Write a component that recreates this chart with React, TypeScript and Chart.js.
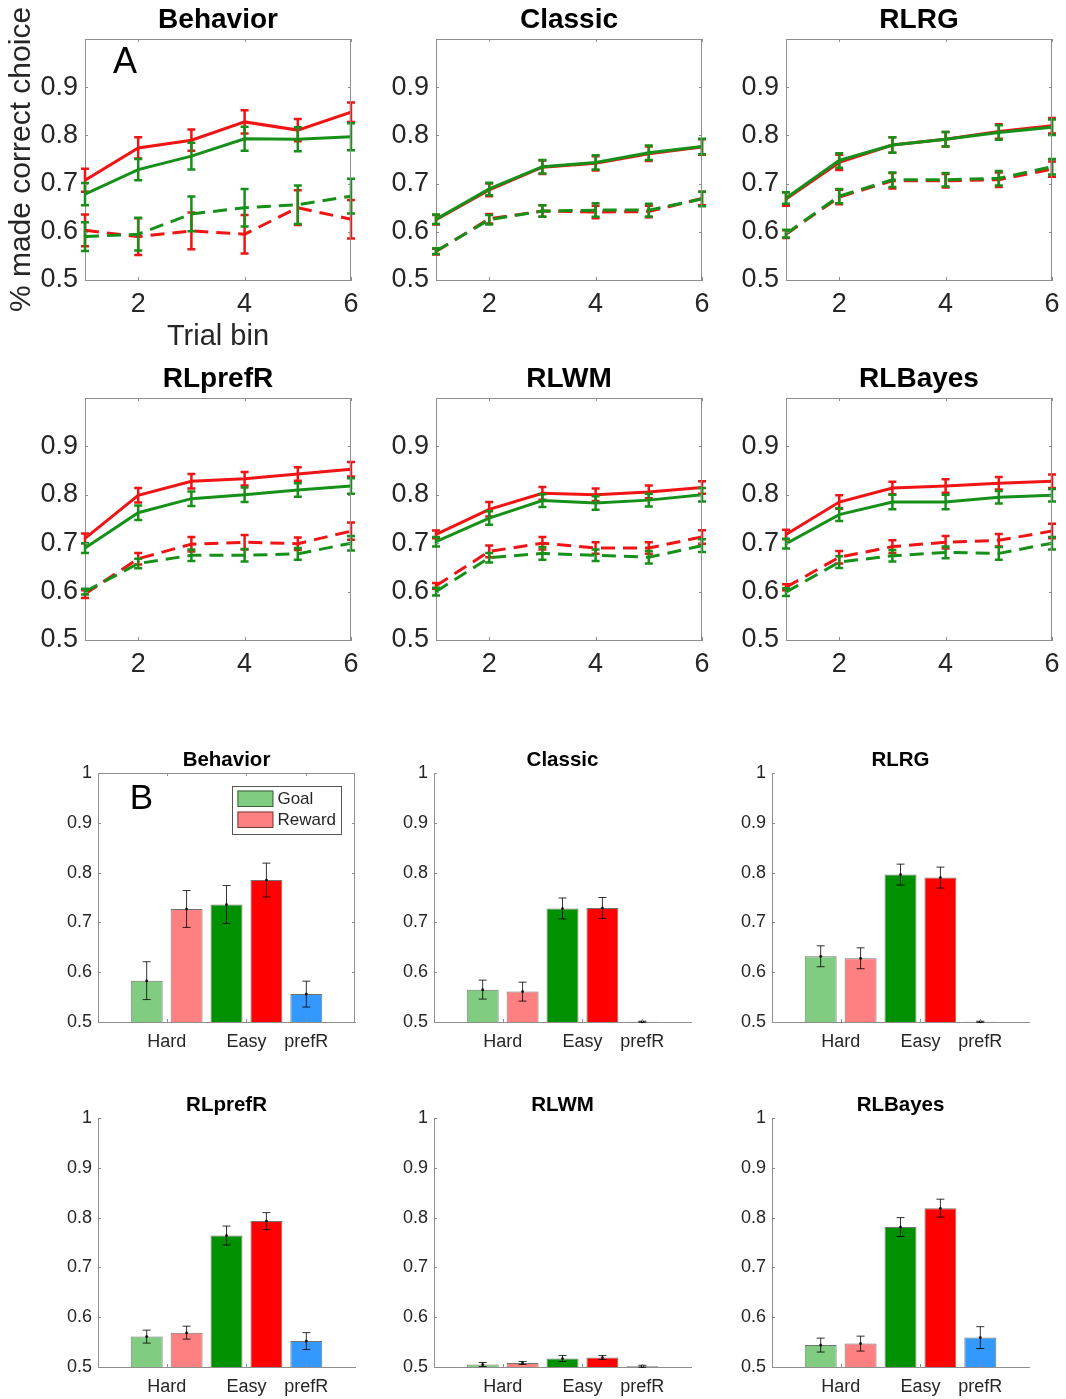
import React, { useEffect, useRef } from 'react';
import { Chart, registerables } from 'chart.js';

Chart.register(...registerables);

const FONT = '"Liberation Sans", Arial, Helvetica, sans-serif';
const AXIS_GRAY = '#8e8e8e';
const TEXT = '#262626';
const RED = '#f01414';
const GREEN = '#17901a';

// ---------------- Panel A (learning curves) ----------------
const trialBins = [1, 2, 3, 4, 5, 6];
const lineXTicks = [2, 4, 6];
const lineXTickLabels = ['2', '4', '6'];
const lineYTicks = [0.5, 0.6, 0.7, 0.8, 0.9];
const lineYTickLabels = ['0.5', '0.6', '0.7', '0.8', '0.9'];
const lineTitles = ['Behavior', 'Classic', 'RLRG', 'RLprefR', 'RLWM', 'RLBayes'];

const behaviorRedSolid = [0.707, 0.774, 0.790, 0.828, 0.811, 0.848];
const behaviorRedSolidErr = [0.024, 0.022, 0.022, 0.024, 0.023, 0.020];
const behaviorGreenSolid = [0.678, 0.729, 0.757, 0.793, 0.792, 0.797];
const behaviorGreenSolidErr = [0.023, 0.022, 0.028, 0.025, 0.025, 0.028];
const behaviorRedDash = [0.603, 0.590, 0.602, 0.595, 0.650, 0.626];
const behaviorRedDashErr = [0.033, 0.038, 0.038, 0.040, 0.036, 0.040];
const behaviorGreenDash = [0.590, 0.595, 0.637, 0.650, 0.656, 0.674];
const behaviorGreenDashErr = [0.030, 0.034, 0.036, 0.039, 0.040, 0.036];

const classicRedSolid = [0.625, 0.687, 0.734, 0.742, 0.762, 0.776];
const classicRedSolidErr = [0.010, 0.013, 0.014, 0.015, 0.015, 0.016];
const classicGreenSolid = [0.626, 0.689, 0.735, 0.744, 0.764, 0.777];
const classicGreenSolidErr = [0.010, 0.013, 0.014, 0.015, 0.015, 0.016];
const classicRedDash = [0.559, 0.627, 0.643, 0.641, 0.642, 0.669];
const classicRedDashErr = [0.006, 0.010, 0.012, 0.013, 0.012, 0.014];
const classicGreenDash = [0.560, 0.625, 0.643, 0.645, 0.645, 0.668];
const classicGreenDashErr = [0.006, 0.010, 0.012, 0.014, 0.013, 0.015];

const rlrgRedSolid = [0.668, 0.744, 0.780, 0.792, 0.808, 0.820];
const rlrgRedSolidErr = [0.014, 0.016, 0.016, 0.015, 0.015, 0.016];
const rlrgGreenSolid = [0.670, 0.748, 0.780, 0.792, 0.806, 0.817];
const rlrgGreenSolidErr = [0.012, 0.015, 0.016, 0.015, 0.015, 0.016];
const rlrgRedDash = [0.595, 0.672, 0.706, 0.706, 0.708, 0.730];
const rlrgRedDashErr = [0.008, 0.015, 0.016, 0.014, 0.015, 0.016];
const rlrgGreenDash = [0.596, 0.674, 0.708, 0.708, 0.711, 0.735];
const rlrgGreenDashErr = [0.008, 0.015, 0.015, 0.014, 0.015, 0.016];

const rlprefrRedSolid = [0.710, 0.799, 0.828, 0.833, 0.843, 0.853];
const rlprefrRedSolidErr = [0.010, 0.015, 0.015, 0.014, 0.014, 0.015];
const rlprefrGreenSolid = [0.690, 0.763, 0.792, 0.800, 0.810, 0.818];
const rlprefrGreenSolidErr = [0.010, 0.015, 0.015, 0.015, 0.014, 0.016];
const rlprefrRedDash = [0.595, 0.668, 0.698, 0.702, 0.699, 0.725];
const rlprefrRedDashErr = [0.008, 0.012, 0.015, 0.015, 0.013, 0.018];
const rlprefrGreenDash = [0.600, 0.658, 0.675, 0.675, 0.678, 0.700];
const rlprefrGreenDashErr = [0.006, 0.010, 0.012, 0.013, 0.012, 0.015];

const rlwmRedSolid = [0.718, 0.770, 0.803, 0.800, 0.806, 0.815];
const rlwmRedSolidErr = [0.008, 0.015, 0.013, 0.013, 0.013, 0.013];
const rlwmGreenSolid = [0.703, 0.752, 0.788, 0.783, 0.789, 0.800];
const rlwmGreenSolidErr = [0.010, 0.014, 0.013, 0.014, 0.013, 0.014];
const rlwmRedDash = [0.612, 0.683, 0.700, 0.690, 0.690, 0.713];
const rlwmRedDashErr = [0.006, 0.012, 0.013, 0.012, 0.012, 0.014];
const rlwmGreenDash = [0.600, 0.670, 0.679, 0.675, 0.671, 0.695];
const rlwmGreenDashErr = [0.008, 0.010, 0.013, 0.012, 0.013, 0.013];

const rlbayesRedSolid = [0.718, 0.785, 0.814, 0.818, 0.824, 0.828];
const rlbayesRedSolidErr = [0.010, 0.014, 0.013, 0.014, 0.013, 0.014];
const rlbayesGreenSolid = [0.699, 0.759, 0.785, 0.785, 0.795, 0.799];
const rlbayesGreenSolidErr = [0.010, 0.013, 0.015, 0.015, 0.013, 0.013];
const rlbayesRedDash = [0.609, 0.671, 0.693, 0.702, 0.706, 0.725];
const rlbayesRedDashErr = [0.006, 0.013, 0.013, 0.013, 0.013, 0.015];
const rlbayesGreenDash = [0.599, 0.661, 0.674, 0.681, 0.679, 0.700];
const rlbayesGreenDashErr = [0.008, 0.012, 0.012, 0.012, 0.013, 0.013];

// ---------------- Panel B (bar summaries) ----------------
const barCategories = ['Goal Hard', 'Reward Hard', 'Goal Easy', 'Reward Easy', 'prefR'];
const barPositions = [1, 2, 3, 4, 5];
const barXTicks = [1.5, 3.5, 5];
const barXTickLabels = ['Hard', 'Easy', 'prefR'];
const barYTicks = [0.5, 0.6, 0.7, 0.8, 0.9, 1];
const barYTickLabels = ['0.5', '0.6', '0.7', '0.8', '0.9', '1'];
const barColors = ['#80cc80', '#ff8080', '#009100', '#ff0000', '#3399ff'];
const barLegendLabels = ['Goal', 'Reward'];
const barTitles = ['Behavior', 'Classic', 'RLRG', 'RLprefR', 'RLWM', 'RLBayes'];

const behaviorBars = [0.583, 0.727, 0.736, 0.785, 0.556];
const behaviorBarsErr = [0.038, 0.037, 0.038, 0.034, 0.026];
const classicBars = [0.565, 0.561, 0.728, 0.729, 0.5005];
const classicBarsErr = [0.019, 0.019, 0.021, 0.021, 0.001];
const rlrgBars = [0.632, 0.628, 0.796, 0.790, 0.5005];
const rlrgBarsErr = [0.021, 0.021, 0.021, 0.021, 0.001];
const rlprefrBars = [0.561, 0.569, 0.764, 0.793, 0.552];
const rlprefrBarsErr = [0.013, 0.013, 0.019, 0.017, 0.017];
const rlwmBars = [0.505, 0.508, 0.517, 0.519, 0.5015];
const rlwmBarsErr = [0.004, 0.003, 0.006, 0.004, 0.002];
const rlbayesBars = [0.544, 0.547, 0.781, 0.819, 0.559];
const rlbayesBarsErr = [0.014, 0.015, 0.019, 0.018, 0.022];

const lineSeries = [
  [behaviorRedSolid, behaviorRedSolidErr, behaviorGreenSolid, behaviorGreenSolidErr, behaviorRedDash, behaviorRedDashErr, behaviorGreenDash, behaviorGreenDashErr],
  [classicRedSolid, classicRedSolidErr, classicGreenSolid, classicGreenSolidErr, classicRedDash, classicRedDashErr, classicGreenDash, classicGreenDashErr],
  [rlrgRedSolid, rlrgRedSolidErr, rlrgGreenSolid, rlrgGreenSolidErr, rlrgRedDash, rlrgRedDashErr, rlrgGreenDash, rlrgGreenDashErr],
  [rlprefrRedSolid, rlprefrRedSolidErr, rlprefrGreenSolid, rlprefrGreenSolidErr, rlprefrRedDash, rlprefrRedDashErr, rlprefrGreenDash, rlprefrGreenDashErr],
  [rlwmRedSolid, rlwmRedSolidErr, rlwmGreenSolid, rlwmGreenSolidErr, rlwmRedDash, rlwmRedDashErr, rlwmGreenDash, rlwmGreenDashErr],
  [rlbayesRedSolid, rlbayesRedSolidErr, rlbayesGreenSolid, rlbayesGreenSolidErr, rlbayesRedDash, rlbayesRedDashErr, rlbayesGreenDash, rlbayesGreenDashErr],
];
const barSeries = [
  [behaviorBars, behaviorBarsErr],
  [classicBars, classicBarsErr],
  [rlrgBars, rlrgBarsErr],
  [rlprefrBars, rlprefrBarsErr],
  [rlwmBars, rlwmBarsErr],
  [rlbayesBars, rlbayesBarsErr],
];

// ---------------- plugins ----------------
const matlabAxes: any = {
  id: 'matlabAxes',
  afterDraw(chart: any, _a: any, opts: any) {
    if (!opts || !opts.enabled) return;
    const { ctx, chartArea: a, scales } = chart;
    const xs = scales.x;
    const ys = scales.y;
    const tl = opts.tickLength;
    ctx.save();
    ctx.strokeStyle = opts.color;
    ctx.lineWidth = 1;
    ctx.beginPath();
    ys.ticks.forEach((t: any) => {
      const y = Math.round(ys.getPixelForValue(t.value)) + 0.5;
      ctx.moveTo(a.left, y);
      ctx.lineTo(a.left + tl, y);
      if (opts.box) {
        ctx.moveTo(a.right, y);
        ctx.lineTo(a.right - tl, y);
      }
    });
    xs.ticks.forEach((t: any) => {
      const x = Math.round(xs.getPixelForValue(t.value)) + 0.5;
      ctx.moveTo(x, a.bottom);
      ctx.lineTo(x, a.bottom - tl);
      if (opts.box) {
        ctx.moveTo(x, a.top);
        ctx.lineTo(x, a.top + tl);
      }
    });
    if (opts.box) {
      ctx.moveTo(a.left, a.top + 0.5);
      ctx.lineTo(a.right, a.top + 0.5);
      ctx.moveTo(a.right - 0.5, a.top);
      ctx.lineTo(a.right - 0.5, a.bottom);
    }
    ctx.stroke();
    ctx.restore();
  },
};

const errorBars: any = {
  id: 'errorBars',
  afterDatasetDraw(chart: any, args: any) {
    const ds = chart.data.datasets[args.index];
    const errs = ds.errors;
    if (!errs) return;
    const ys = chart.scales.y;
    const ctx = chart.ctx;
    ctx.save();
    ctx.strokeStyle = ds.errorColor || ds.borderColor;
    ctx.lineWidth = ds.errorWidth || 1;
    const cap = ds.errorCap || 4;
    args.meta.data.forEach((el: any, i: number) => {
      const v = ds.data[i].y;
      const e = errs[i];
      const x = el.x;
      const yt = ys.getPixelForValue(v + e);
      const yb = ys.getPixelForValue(v - e);
      ctx.beginPath();
      ctx.moveTo(x, yt);
      ctx.lineTo(x, yb);
      ctx.moveTo(x - cap, yt);
      ctx.lineTo(x + cap, yt);
      ctx.moveTo(x - cap, yb);
      ctx.lineTo(x + cap, yb);
      ctx.stroke();
      if (ds.errorDot) {
        ctx.fillStyle = ds.errorColor;
        ctx.beginPath();
        ctx.arc(x, ys.getPixelForValue(v), ds.errorDot, 0, Math.PI * 2);
        ctx.fill();
      }
    });
    ctx.restore();
  },
};

const panelLetter: any = {
  id: 'panelLetter',
  afterDraw(chart: any, _a: any, opts: any) {
    if (!opts || !opts.text) return;
    const { ctx, chartArea: a } = chart;
    ctx.save();
    ctx.fillStyle = '#000';
    ctx.font = `${opts.size}px ${FONT}`;
    ctx.textAlign = 'center';
    ctx.textBaseline = 'middle';
    ctx.fillText(opts.text, a.left + opts.dx, a.top + opts.dy);
    ctx.restore();
  },
};

const boxLegend: any = {
  id: 'boxLegend',
  afterDraw(chart: any, _a: any, opts: any) {
    if (!opts || !opts.labels) return;
    const { ctx, chartArea: a } = chart;
    ctx.save();
    ctx.font = `${opts.size}px ${FONT}`;
    const textW = Math.max(...opts.labels.map((l: string) => ctx.measureText(l).width));
    const pad = 5;
    const sw = 36;
    const sh = 16.5;
    const rowH = 21;
    const w = pad + sw + 4 + textW + 5;
    const h = pad + rowH * opts.labels.length + 1;
    const x0 = a.right - opts.right - w;
    const y0 = a.top + opts.top;
    ctx.fillStyle = '#fff';
    ctx.fillRect(x0, y0, w, h);
    ctx.strokeStyle = '#555';
    ctx.lineWidth = 1;
    ctx.strokeRect(Math.round(x0) + 0.5, Math.round(y0) + 0.5, Math.round(w), Math.round(h));
    opts.labels.forEach((l: string, i: number) => {
      const ry = y0 + pad + i * rowH;
      ctx.fillStyle = opts.colors[i];
      ctx.fillRect(x0 + pad, ry, sw, sh);
      ctx.strokeStyle = 'rgba(0,0,0,0.55)';
      ctx.strokeRect(x0 + pad + 0.5, ry + 0.5, sw - 1, sh - 1);
      ctx.fillStyle = TEXT;
      ctx.textAlign = 'left';
      ctx.textBaseline = 'middle';
      ctx.fillText(l, x0 + pad + sw + 4, ry + sh / 2 + 0.5);
    });
    ctx.restore();
  },
};

// ---------------- chart builders ----------------
function lineDataset(label: string, values: number[], errs: number[], color: string, dashed: boolean) {
  return {
    label,
    data: trialBins.map((x, i) => ({ x, y: values[i] })),
    borderColor: color,
    backgroundColor: color,
    borderWidth: 3,
    borderDash: dashed ? [14, 8] : [],
    pointRadius: 0,
    tension: 0,
    fill: false,
    errors: errs,
    errorColor: color,
    errorWidth: 2.5,
    errorCap: 4,
  };
}

const LINE = { padL: 85, padTop: 39, plotW: 266, padR: 20 };

function lineConfig(idx: number, xAxisH: number, first: boolean) {
  const s = lineSeries[idx];
  return {
    type: 'line',
    data: {
      datasets: [
        lineDataset('Goal easy', s[2], s[3], GREEN, false),
        lineDataset('Goal hard', s[6], s[7], GREEN, true),
        lineDataset('Reward easy', s[0], s[1], RED, false),
        lineDataset('Reward hard', s[4], s[5], RED, true),
      ],
    },
    options: {
      responsive: false,
      animation: false,
      events: [],
      layout: { padding: { left: 0, right: LINE.padR, top: 0, bottom: 0 } },
      plugins: {
        legend: { display: false },
        tooltip: { enabled: false },
        title: {
          display: true,
          text: lineTitles[idx],
          fullSize: false,
          color: '#000',
          font: { family: FONT, size: 28, weight: 'bold', lineHeight: 1 },
          padding: { top: 6.5, bottom: 4.5 },
        },
        matlabAxes: { enabled: true, box: true, color: AXIS_GRAY, tickLength: 3 },
        panelLetter: first ? { text: 'A', size: 36, dx: 40, dy: 24 } : {},
      },
      scales: {
        x: {
          type: 'linear',
          min: 1,
          max: 6,
          grid: { display: false, drawTicks: false },
          border: { display: true, color: AXIS_GRAY, width: 1 },
          afterBuildTicks: (sc: any) => {
            sc.ticks = lineXTicks.map((v) => ({ value: v }));
          },
          afterFit: (sc: any) => {
            sc.height = xAxisH;
          },
          ticks: {
            autoSkip: false,
            maxRotation: 0,
            padding: 8,
            color: TEXT,
            font: { family: FONT, size: 27 },
            callback: (_v: any, i: number) => lineXTickLabels[i],
          },
          title: {
            display: first,
            text: 'Trial bin',
            color: TEXT,
            font: { family: FONT, size: 29, lineHeight: 1 },
            padding: { top: 0, bottom: 8.5 },
          },
        },
        y: {
          type: 'linear',
          min: 0.5,
          max: 1.0,
          grid: { display: false, drawTicks: false },
          border: { display: true, color: AXIS_GRAY, width: 1 },
          afterBuildTicks: (sc: any) => {
            sc.ticks = lineYTicks.map((v) => ({ value: v }));
          },
          afterFit: (sc: any) => {
            sc.width = LINE.padL;
          },
          ticks: {
            autoSkip: false,
            padding: 7,
            color: TEXT,
            font: { family: FONT, size: 27 },
            callback: (_v: any, i: number) => lineYTickLabels[i],
          },
          title: {
            display: first,
            text: '% made correct choice',
            color: TEXT,
            font: { family: FONT, size: 30, lineHeight: 1 },
            padding: { top: 7, bottom: 0 },
          },
        },
      },
    },
    plugins: [matlabAxes, errorBars, panelLetter],
  };
}

const BAR = { padL: 62, padTop: 33, plotW: 257, padR: 12, plotH: 249, xAxisH: 32 };

function barConfig(idx: number) {
  const [vals, errs] = barSeries[idx];
  const first = idx === 0;
  return {
    type: 'bar',
    data: {
      datasets: [
        {
          label: barTitles[idx],
          data: barPositions.map((x, i) => ({ x, y: vals[i], category: barCategories[i] })),
          backgroundColor: barColors,
          borderColor: 'rgba(0,0,0,0.55)',
          borderWidth: 1,
          borderSkipped: 'start',
          barPercentage: 0.8,
          categoryPercentage: 1,
          errors: errs,
          errorColor: 'rgba(0,0,0,0.8)',
          errorWidth: 1,
          errorCap: 4,
          errorDot: 1.5,
        },
      ],
    },
    options: {
      responsive: false,
      animation: false,
      events: [],
      layout: { padding: { left: 0, right: BAR.padR, top: 0, bottom: 0 } },
      plugins: {
        legend: { display: false },
        tooltip: { enabled: false },
        title: {
          display: true,
          text: barTitles[idx],
          fullSize: false,
          color: '#000',
          font: { family: FONT, size: 20.5, weight: 'bold', lineHeight: 1 },
          padding: { top: 10, bottom: 2.5 },
        },
        matlabAxes: { enabled: true, box: first, color: AXIS_GRAY, tickLength: 3 },
        panelLetter: first ? { text: 'B', size: 35, dx: 43.5, dy: 26 } : {},
        boxLegend: first
          ? { labels: barLegendLabels, colors: [barColors[0], barColors[1]], size: 17, right: 14, top: 12.5 }
          : {},
      },
      scales: {
        x: {
          type: 'linear',
          min: -0.22,
          max: 6.22,
          offset: false,
          grid: { display: false, drawTicks: false, offset: false },
          border: { display: true, color: AXIS_GRAY, width: 1 },
          afterBuildTicks: (sc: any) => {
            sc.ticks = barXTicks.map((v) => ({ value: v }));
          },
          afterFit: (sc: any) => {
            sc.height = BAR.xAxisH;
          },
          ticks: {
            autoSkip: false,
            maxRotation: 0,
            padding: 9,
            color: TEXT,
            font: { family: FONT, size: 18 },
            callback: (_v: any, i: number) => barXTickLabels[i],
          },
        },
        y: {
          type: 'linear',
          min: 0.5,
          max: 1,
          grid: { display: false, drawTicks: false },
          border: { display: true, color: AXIS_GRAY, width: 1 },
          afterBuildTicks: (sc: any) => {
            sc.ticks = barYTicks.map((v) => ({ value: v }));
          },
          afterFit: (sc: any) => {
            sc.width = BAR.padL;
          },
          ticks: {
            autoSkip: false,
            padding: 6,
            color: TEXT,
            font: { family: FONT, size: 18 },
            callback: (_v: any, i: number) => barYTickLabels[i],
          },
        },
      },
    },
    plugins: [matlabAxes, errorBars, panelLetter, boxLegend],
  };
}

function ChartCanvas(props: { left: number; top: number; width: number; height: number; make: () => any }) {
  const ref = useRef<HTMLCanvasElement>(null);
  const { left, top, width, height, make } = props;
  useEffect(() => {
    const chart = new Chart(ref.current as HTMLCanvasElement, make());
    return () => chart.destroy();
  }, []);
  return (
    <canvas
      ref={ref}
      width={width}
      height={height}
      style={{ position: 'absolute', left, top, width, height }}
    />
  );
}

const linePlotLefts = [85, 436, 786];
const linePlotTops = [39, 398];
const linePlotHeights = [241, 242];
const lineXAxisHeights = [80, 45];
const barPlotLefts = [98, 434, 772];
const barPlotTops = [773, 1118];

export default function App() {
  const panels: any[] = [];
  for (let r = 0; r < 2; r++) {
    for (let c = 0; c < 3; c++) {
      const idx = r * 3 + c;
      const xh = r === 0 && c === 0 ? lineXAxisHeights[0] : lineXAxisHeights[1];
      panels.push(
        <ChartCanvas
          key={'l' + idx}
          left={linePlotLefts[c] - LINE.padL}
          top={linePlotTops[r] - LINE.padTop}
          width={LINE.padL + LINE.plotW + LINE.padR}
          height={LINE.padTop + linePlotHeights[r] + xh}
          make={() => lineConfig(idx, xh, idx === 0)}
        />
      );
    }
  }
  for (let r = 0; r < 2; r++) {
    for (let c = 0; c < 3; c++) {
      const idx = r * 3 + c;
      panels.push(
        <ChartCanvas
          key={'b' + idx}
          left={barPlotLefts[c] - BAR.padL}
          top={barPlotTops[r] - BAR.padTop}
          width={BAR.padL + BAR.plotW + BAR.padR}
          height={BAR.padTop + BAR.plotH + BAR.xAxisH}
          make={() => barConfig(idx)}
        />
      );
    }
  }
  return (
    <div style={{ position: 'absolute', left: 0, top: 0, width: 1066, height: 1399, background: '#fff', overflow: 'hidden' }}>
      {panels}
    </div>
  );
}
